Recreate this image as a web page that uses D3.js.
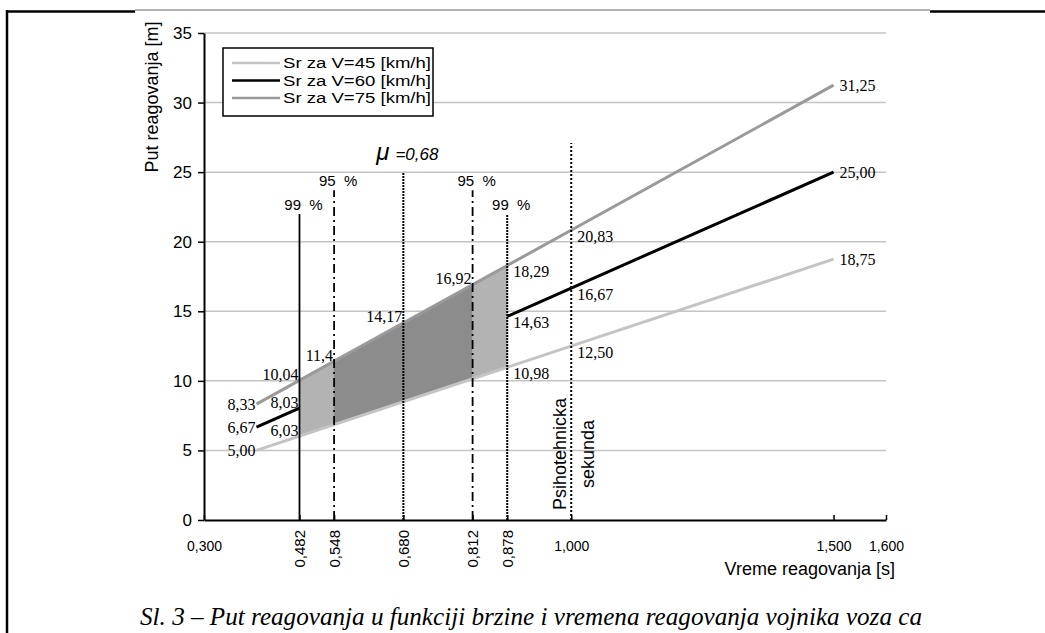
<!DOCTYPE html>
<html>
<head>
<meta charset="utf-8">
<script src="https://cdn.jsdelivr.net/npm/d3@7"></script>
<style>
  body { margin: 0; background: #fff; }
  svg { display: block; font-family: "Liberation Sans", Arial, sans-serif; }
</style>
</head>
<body>
<div id="graph-viz"></div>
<script>
// reaction path lines (start and end of each line)
const lineTimes = [0.4, 1.5];
const seriesNames = ['Sr za V=45 [km/h]', 'Sr za V=60 [km/h]', 'Sr za V=75 [km/h]'];
const path45 = [5.00, 18.75];
const path60 = [6.67, 25.00];
const path75 = [8.33, 31.25];

// shaded band between V=45 and V=75
const bandTimes = [0.482, 0.548, 0.812, 0.878];
const bandLow = [6.03, 6.85, 10.15, 10.98];
const bandHigh = [10.04, 11.42, 16.92, 18.29];

// vertical marker lines
const markerTimes = [0.482, 0.548, 0.680, 0.812, 0.878, 1.000];
const markerTops = [22, 23.7, 25, 23.7, 22, 27.1];
const markerNames = ['99 %', '95 %', 'μ =0,68', '95 %', '99 %', 'Psihotehnicka sekunda'];

const xTicks = [0.300, 0.482, 0.548, 0.680, 0.812, 0.878, 1.000, 1.500, 1.600];
const xTicksRotated = [0.482, 0.548, 0.680, 0.812, 0.878];
const yTicks = [0, 5, 10, 15, 20, 25, 30, 35];

// value labels
const pointTimes = [0.4, 0.4, 0.4, 0.482, 0.482, 0.482, 0.548, 0.680, 0.812, 0.878, 0.878, 0.878, 1.0, 1.0, 1.0, 1.5, 1.5, 1.5];
const pointValues = [5.00, 6.67, 8.33, 6.03, 8.03, 10.04, 11.4, 14.17, 16.92, 18.29, 14.63, 10.98, 20.83, 16.67, 12.50, 31.25, 25.00, 18.75];
const pointLabels = ['5,00', '6,67', '8,33', '6,03', '8,03', '10,04', '11,4', '14,17', '16,92', '18,29', '14,63', '10,98', '20,83', '16,67', '12,50', '31,25', '25,00', '18,75'];

const caption = 'Sl. 3 – Put reagovanja u funkciji brzine i vremena reagovanja vojnika voza ca';

const svgWidth = 1045;
const svgHeight = 633;

const svg = d3.select('#graph-viz').append('svg')
  .attr('width', svgWidth)
  .attr('height', svgHeight);

const xScale = d3.scaleLinear().domain([0.3, 1.6]).range([204, 886]);
const yScale = d3.scaleLinear().domain([0, 35]).range([520, 33]);

// page frame
svg.append('line').attr('x1', 7).attr('x2', 7).attr('y1', 10).attr('y2', 633)
  .attr('stroke', '#000').attr('stroke-width', 2.5);
svg.append('line').attr('x1', 6).attr('x2', 135).attr('y1', 11.5).attr('y2', 11.5)
  .attr('stroke', '#000').attr('stroke-width', 2.5);
svg.append('line').attr('x1', 135).attr('x2', 930).attr('y1', 10).attr('y2', 10)
  .attr('stroke', '#666').attr('stroke-width', 1);
svg.append('line').attr('x1', 930).attr('x2', 1045).attr('y1', 11.5).attr('y2', 11.5)
  .attr('stroke', '#000').attr('stroke-width', 2.5);

// gridlines
svg.append('g').selectAll('line')
  .data(yTicks.filter(d => d > 0))
  .enter().append('line')
  .attr('x1', xScale(0.3)).attr('x2', xScale(1.6))
  .attr('y1', d => yScale(d)).attr('y2', d => yScale(d))
  .attr('stroke', '#c4c4c4').attr('stroke-width', 1.5);

const line = d3.line()
  .x((d, i) => xScale(lineTimes[i]))
  .y(d => yScale(d));

// black line sits under the band
svg.append('path').attr('d', line(path60))
  .attr('fill', 'none').attr('stroke', '#000').attr('stroke-width', 3);

const area = d3.area()
  .x(i => xScale(bandTimes[i]))
  .y0(i => yScale(bandLow[i]))
  .y1(i => yScale(bandHigh[i]));

const bandColors = ['#b3b3b3', '#8c8c8c', '#b3b3b3'];
svg.append('g').selectAll('path')
  .data([[0, 1], [1, 2], [2, 3]])
  .enter().append('path')
  .attr('d', d => area(d))
  .attr('fill', (d, i) => bandColors[i])
  .attr('stroke', (d, i) => bandColors[i])
  .attr('stroke-width', 0.5);

svg.append('path').attr('d', line(path45))
  .attr('fill', 'none').attr('stroke', '#c4c4c4').attr('stroke-width', 3);
svg.append('path').attr('d', line(path75))
  .attr('fill', 'none').attr('stroke', '#9a9a9a').attr('stroke-width', 3);

// vertical markers
const markerDash = ['none', '9,4,2,4', '2,1', '9,4,2,4', '2,1', '2,2'];
const markerWidth = [1.8, 1.8, 2, 1.8, 2, 2];
svg.append('g').selectAll('line')
  .data(markerTimes)
  .enter().append('line')
  .attr('x1', d => xScale(d)).attr('x2', d => xScale(d))
  .attr('y1', yScale(0))
  .attr('y2', (d, i) => yScale(markerTops[i]))
  .attr('stroke', '#000')
  .attr('stroke-width', (d, i) => markerWidth[i])
  .attr('stroke-dasharray', (d, i) => markerDash[i]);

// marker labels
markerTimes.forEach((t, i) => {
  const name = markerNames[i];
  if (name.indexOf('%') > -1) {
    svg.append('text')
      .attr('x', xScale(t) + 4)
      .attr('y', yScale(markerTops[i]) - 4)
      .attr('text-anchor', 'middle')
      .attr('font-size', 15)
      .attr('xml:space', 'preserve')
      .text(name.replace(' ', '  '));
  } else if (name.indexOf('μ') === 0) {
    const mu = svg.append('text')
      .attr('x', xScale(t) + 4)
      .attr('y', yScale(markerTops[i]) - 12)
      .attr('text-anchor', 'middle')
      .attr('font-style', 'italic')
      .attr('font-size', 17);
    mu.append('tspan').attr('font-size', 24).text(name.split(' ')[0]);
    mu.append('tspan').attr('dx', 6).text(name.split(' ')[1]);
  } else {
    const words = name.split(' ');
    words.forEach((w, j) => {
      const bx = xScale(t) - 5 + j * 28;
      svg.append('text')
        .attr('transform', `translate(${bx},454) rotate(-90)`)
        .attr('text-anchor', 'middle')
        .attr('font-size', 18)
        .text(w);
    });
  }
});

// value labels
svg.append('g').selectAll('text')
  .data(pointLabels)
  .enter().append('text')
  .attr('x', (d, i) => xScale(pointTimes[i]) + (pointTimes[i] < 0.85 ? -1 : 6))
  .attr('y', (d, i) => {
    const t = pointTimes[i];
    let shift = 0;
    if (t > 0.45 && t < 0.85) shift = -6;
    if (t > 0.85 && t < 1.2) shift = 6;
    return yScale(pointValues[i]) + shift;
  })
  .attr('dy', '0.35em')
  .attr('text-anchor', (d, i) => pointTimes[i] < 0.85 ? 'end' : 'start')
  .attr('font-family', '"Liberation Serif", "Times New Roman", serif')
  .attr('font-size', 16)
  .text(d => d);

// axes
const fmt = d => d3.format('.3f')(d).replace('.', ',');

const xAxis = d3.axisBottom(xScale)
  .tickValues(xTicks)
  .tickSizeInner(-5)
  .tickSizeOuter(0)
  .tickPadding(21)
  .tickFormat(fmt);

const gx = svg.append('g')
  .attr('transform', `translate(0,${yScale(0)})`)
  .call(xAxis);
gx.select('.domain').attr('stroke-width', 2);
gx.selectAll('.tick line').attr('stroke-width', 1.5);
gx.selectAll('.tick text')
  .attr('font-size', 14)
  .attr('font-family', '"Liberation Sans", Arial, sans-serif')
  .attr('fill', '#000');
gx.selectAll('.tick')
  .filter(d => xTicksRotated.indexOf(d) > -1)
  .select('text')
  .attr('font-size', 15)
  .attr('transform', 'rotate(-90)')
  .attr('text-anchor', 'end')
  .attr('x', -10)
  .attr('y', 0)
  .attr('dy', '0.35em');

const yAxis = d3.axisLeft(yScale)
  .tickValues(yTicks)
  .tickSizeInner(6)
  .tickSizeOuter(0)
  .tickPadding(6);

const gy = svg.append('g')
  .attr('transform', `translate(${xScale(0.3)},0)`)
  .call(yAxis);
gy.select('.domain').attr('stroke-width', 2);
gy.selectAll('.tick line').attr('stroke-width', 1.5);
gy.selectAll('.tick text')
  .attr('font-size', 17)
  .attr('font-family', '"Liberation Sans", Arial, sans-serif')
  .attr('fill', '#000');

// axis titles
svg.append('text')
  .attr('x', 895).attr('y', 575)
  .attr('text-anchor', 'end')
  .attr('font-size', 18)
  .text('Vreme reagovanja [s]');

svg.append('text')
  .attr('transform', 'translate(158,97) rotate(-90)')
  .attr('text-anchor', 'middle')
  .attr('font-size', 18)
  .text('Put reagovanja [m]');

// legend
const legend = svg.append('g');
legend.append('rect')
  .attr('x', 223).attr('y', 48).attr('width', 210).attr('height', 68)
  .attr('fill', '#fff').attr('stroke', '#000').attr('stroke-width', 1.5);
const legendColors = ['#c4c4c4', '#000', '#9a9a9a'];
seriesNames.forEach((name, i) => {
  const ly = 63 + i * 17.5;
  legend.append('line')
    .attr('x1', 232).attr('x2', 280).attr('y1', ly).attr('y2', ly)
    .attr('stroke', legendColors[i]).attr('stroke-width', 2.5);
  legend.append('text')
    .attr('x', 283).attr('y', ly).attr('dy', '0.35em')
    .attr('font-size', 15.5)
    .attr('textLength', 148)
    .attr('lengthAdjust', 'spacingAndGlyphs')
    .text(name);
});

// figure caption
svg.append('text')
  .attr('x', 140).attr('y', 625)
  .attr('font-family', '"Liberation Serif", "Times New Roman", serif')
  .attr('font-style', 'italic')
  .attr('font-size', 25)
  .attr('textLength', 782)
  .attr('lengthAdjust', 'spacingAndGlyphs')
  .text(caption);
</script>
</body>
</html>
